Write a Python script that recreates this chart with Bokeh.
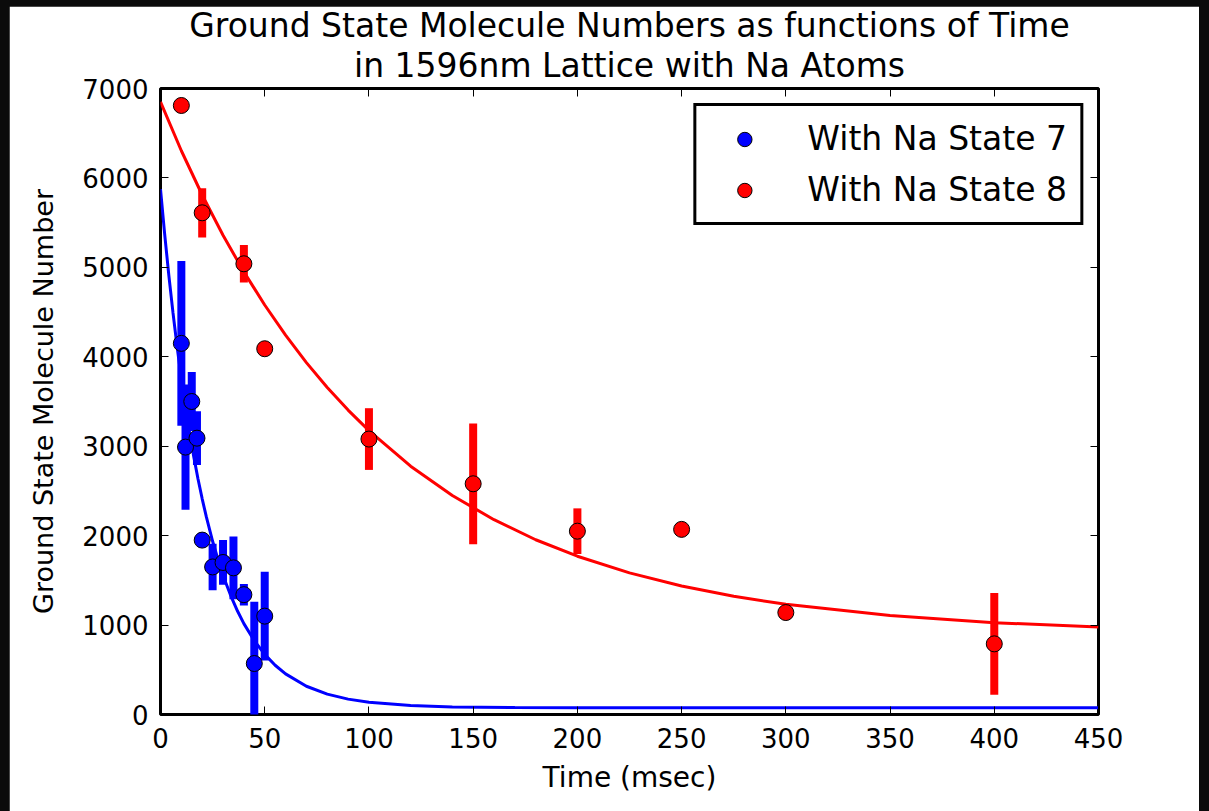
from bokeh.plotting import figure
from bokeh.models import Range1d, LinearAxis, Title, Legend, LegendItem, FixedTicker
from bokeh.layouts import column
from bokeh.embed import file_html
from bokeh.resources import INLINE

# ---- data ----
# With Na State 7 (blue)
t7 = [10, 12, 15, 17.5, 20, 25, 30, 35, 40, 45, 50]
n7 = [4150, 2990, 3500, 3090, 1950, 1650, 1700, 1640, 1340, 570, 1100]
e7 = [920, 700, 330, 300, 80, 260, 250, 350, 120, 690, 495]

# With Na State 8 (red)
t8 = [10, 20, 40, 50, 100, 150, 200, 250, 300, 400]
n8 = [6810, 5610, 5040, 4090, 3080, 2580, 2050, 2070, 1140, 790]
e8 = [60, 275, 210, 40, 345, 675, 255, 40, 40, 570]

# fitted curves
fit7_t = [0, 2, 4, 6, 8, 10, 12, 14, 16, 18, 20, 22, 25, 28, 31, 34, 37, 40, 45, 50,
          55, 60, 70, 80, 90, 100, 120, 140, 170, 200, 300, 450]
fit7_n = [5875, 5371, 4911, 4491, 4107, 3756, 3437, 3144, 2878, 2634, 2412, 2209, 1937,
          1700, 1493, 1312, 1154, 1016, 825, 672, 551, 454, 316, 228, 172, 136, 100, 85,
          77, 75, 75, 75]
fit8_t = [0, 10, 20, 30, 40, 50, 60, 70, 80, 90, 100, 120, 140, 160, 180, 200, 225, 250,
          275, 300, 350, 400, 450]
fit8_n = [6850, 6304, 5809, 5359, 4950, 4579, 4242, 3935, 3657, 3404, 3175, 2777, 2449,
          2178, 1954, 1770, 1584, 1437, 1322, 1232, 1106, 1027, 979]

x_ticks = [0, 50, 100, 150, 200, 250, 300, 350, 400, 450]
y_ticks = [0, 1000, 2000, 3000, 4000, 5000, 6000, 7000]

title_line1 = "Ground State Molecule Numbers as functions of Time"
title_line2 = "in 1596nm Lattice with Na Atoms"
x_label = "Time (msec)"
y_label = "Ground State Molecule Number"
labels = ["With Na State 7", "With Na State 8"]

BLUE = "#0000ff"
RED = "#ff0000"
FONT = "DejaVu Sans"

p = figure(width=1190, height=805, x_range=Range1d(0, 450), y_range=Range1d(0, 7000),
           output_backend="svg", toolbar_location=None, title=None,
           min_border_left=151, min_border_right=101, min_border_top=82, min_border_bottom=97,
           background_fill_color="white", border_fill_color="white")
p.grid.visible = False
p.outline_line_color = "black"
p.outline_line_width = 3

def style_axis(ax, ticks, show_labels=True):
    ax.ticker = FixedTicker(ticks=ticks)
    ax.axis_line_color = None
    ax.major_tick_in = 8
    ax.major_tick_out = 0
    ax.minor_tick_in = 0
    ax.minor_tick_out = 0
    ax.major_tick_line_color = "black"
    ax.major_tick_line_width = 1
    ax.major_label_text_font = FONT
    ax.major_label_text_color = "black"
    ax.axis_label_text_font = FONT
    ax.axis_label_text_font_style = "normal"
    ax.axis_label_text_color = "black"
    if show_labels:
        ax.major_label_text_font_size = "26px"
    else:
        ax.major_label_overrides = {t: "" for t in ticks}
        ax.major_label_text_font_size = "1px"
        ax.major_label_standoff = 0

xa = p.xaxis[0]
style_axis(xa, x_ticks)
xa.axis_label = x_label
xa.axis_label_text_font_size = "28px"
xa.major_label_standoff = 13
xa.axis_label_standoff = 10

ya = p.yaxis[0]
style_axis(ya, y_ticks)
ya.axis_label = y_label
ya.axis_label_text_font_size = "27px"
ya.major_label_standoff = 12
ya.axis_label_standoff = 20

top_ax = LinearAxis()
style_axis(top_ax, x_ticks, show_labels=False)
p.add_layout(top_ax, "above")
right_ax = LinearAxis()
style_axis(right_ax, y_ticks, show_labels=False)
p.add_layout(right_ax, "right")

p.add_layout(Title(text=title_line2, align="center", text_font_size="33px", text_font=FONT,
                   text_font_style="normal", text_color="black",
                   standoff=7), "above")
p.add_layout(Title(text=title_line1, align="center", text_font_size="33px", text_font=FONT,
                   text_font_style="normal", text_color="black",
                   standoff=-8), "above")

# fit curves
p.line(fit7_t, fit7_n, line_color=BLUE, line_width=3)
p.line(fit8_t, fit8_n, line_color=RED, line_width=3)

# error bars
p.segment(x0=t7, y0=[n - e for n, e in zip(n7, e7)], x1=t7, y1=[n + e for n, e in zip(n7, e7)],
          line_color=BLUE, line_width=8)
p.segment(x0=t8, y0=[n - e for n, e in zip(n8, e8)], x1=t8, y1=[n + e for n, e in zip(n8, e8)],
          line_color=RED, line_width=8)

# data points
s7 = p.scatter(t7, n7, size=16, fill_color=BLUE, line_color="black", line_width=1)
s8 = p.scatter(t8, n8, size=16, fill_color=RED, line_color="black", line_width=1)

legend = Legend(items=[LegendItem(label=labels[0], renderers=[s7]),
                       LegendItem(label=labels[1], renderers=[s8])],
                location="top_right", margin=15,
                border_line_color="black", border_line_width=3, border_line_alpha=1,
                background_fill_color="white", background_fill_alpha=1,
                label_text_font=FONT, label_text_font_size="33px", label_text_color="black",
                glyph_width=70, glyph_height=36, label_height=36,
                spacing=12, padding=13, label_standoff=28)
p.add_layout(legend)

page = column(p, styles={"background-color": "#0b0b0b", "padding": "6px 10px 0px 9px"})

open("out.html", "w").write(file_html(page, INLINE))
